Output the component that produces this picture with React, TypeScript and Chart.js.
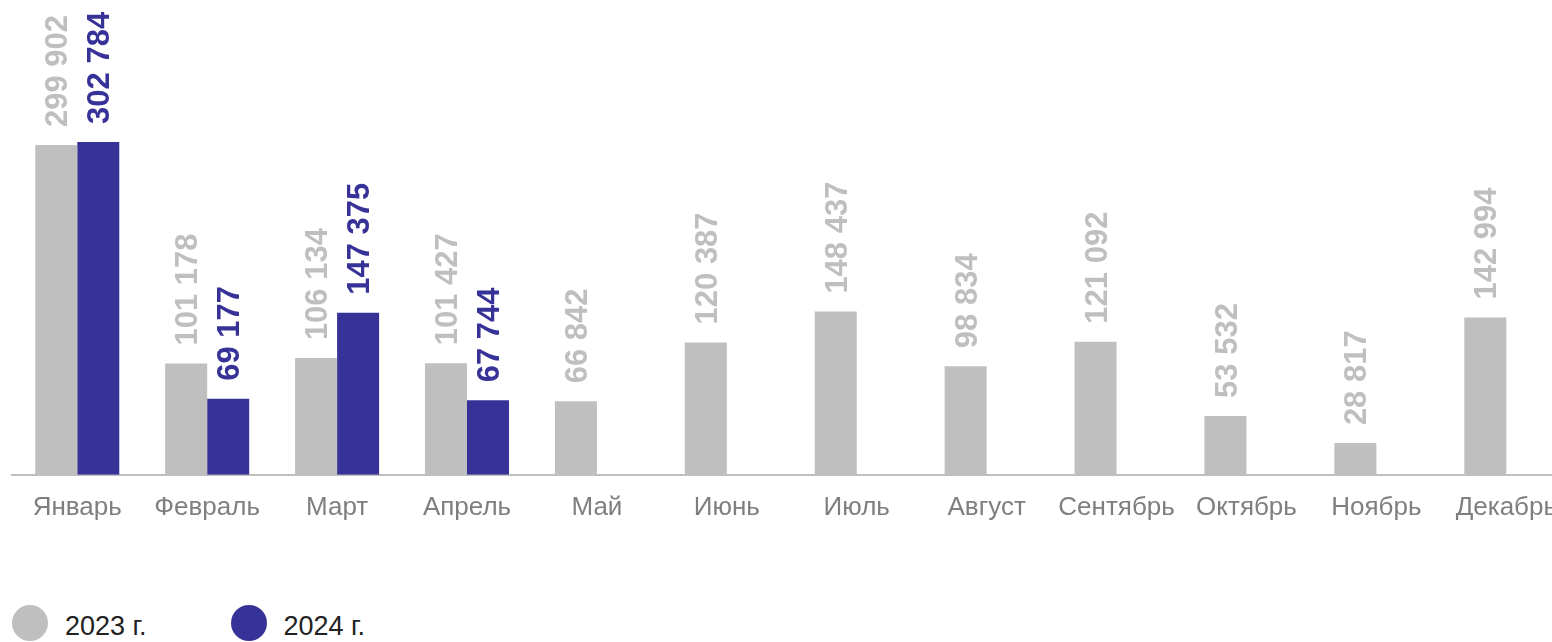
import React, { useEffect, useLayoutEffect, useRef } from "react";
import { Chart, registerables } from "chart.js";

Chart.register(...registerables);

const months = ["Январь", "Февраль", "Март", "Апрель", "Май", "Июнь", "Июль", "Август", "Сентябрь", "Октябрь", "Ноябрь", "Декабрь"];
const values2023 = [299902, 101178, 106134, 101427, 66842, 120387, 148437, 98834, 121092, 53532, 28817, 142994];
const values2024: (number | null)[] = [302784, 69177, 147375, 67744, null, null, null, null, null, null, null, null];
const seriesNames = ["2023 г.", "2024 г."];

const GRAY = "#BFBFBF";
const BLUE = "#373297";
const FONT = "'Liberation Sans', Arial, sans-serif";

const fmt = (v: number) => String(Math.round(v)).replace(/\B(?=(\d{3})+(?!\d))/g, " ");

const valueLabels = {
  id: "valueLabels",
  afterDatasetsDraw(chart: any) {
    const ctx = chart.ctx;
    const size = 31;
    chart.data.datasets.forEach((ds: any, i: number) => {
      const meta = chart.getDatasetMeta(i);
      meta.data.forEach((bar: any, j: number) => {
        const v = ds.data[j];
        if (v == null) return;
        ctx.save();
        ctx.translate(bar.x, bar.y - 18);
        ctx.rotate(-Math.PI / 2);
        ctx.font = `bold ${size}px ${FONT}`;
        ctx.fillStyle = ds.backgroundColor;
        ctx.textAlign = "left";
        ctx.textBaseline = "alphabetic";
        ctx.fillText(fmt(v), 0, size * 0.358);
        ctx.restore();
      });
    });
  },
};

export default function App() {
  const ref = useRef<HTMLCanvasElement>(null);

  useLayoutEffect(() => {
    const prev = document.body.style.margin;
    document.body.style.margin = "0";
    return () => {
      document.body.style.margin = prev;
    };
  }, []);

  useEffect(() => {
    if (!ref.current) return;
    const chart = new Chart(ref.current, {
      type: "bar",
      data: {
        labels: months,
        datasets: [
          { label: seriesNames[0], data: values2023, backgroundColor: GRAY, borderWidth: 0 },
          { label: seriesNames[1], data: values2024 as any, backgroundColor: BLUE, borderWidth: 0 },
        ],
      },
      options: {
        animation: false,
        responsive: false,
        maintainAspectRatio: false,
        layout: { padding: { left: 4.3, right: 0, top: 2, bottom: 0 } },
        datasets: { bar: { barPercentage: 1, categoryPercentage: 0.647 } } as any,
        plugins: { legend: { display: false }, tooltip: { enabled: false } },
        scales: {
          x: {
            grid: { display: false, drawTicks: false },
            border: { display: true, color: GRAY, width: 2 },
            ticks: {
              color: "#7F7F7F",
              font: { family: FONT, size: 26 },
              padding: 17,
              maxRotation: 0,
              minRotation: 0,
              autoSkip: false,
            },
          },
          y: { display: false, min: 0, max: 422800 },
        },
      },
      plugins: [valueLabels],
    });
    return () => chart.destroy();
  }, []);

  const legendItem = (name: string, color: string, left: number) => (
    <React.Fragment key={name}>
      <div
        style={{
          position: "absolute",
          left: left,
          top: 605,
          width: 36,
          height: 36,
          borderRadius: "50%",
          background: color,
        }}
      />
      <div
        style={{
          position: "absolute",
          left: left + 52.7,
          top: 612,
          height: 29,
          lineHeight: "29px",
          fontFamily: FONT,
          fontSize: 27,
          color: "#222222",
          whiteSpace: "nowrap",
        }}
      >
        {name}
      </div>
    </React.Fragment>
  );

  return (
    <div style={{ position: "relative", width: 1552, height: 642, overflow: "hidden" }}>
      <div style={{ position: "absolute", left: 8, top: 8, width: 1544, overflow: "hidden" }}>
        <canvas ref={ref} width={1566} height={532} style={{ display: "block", width: 1566, height: 532 }} />
      </div>
      {legendItem(seriesNames[0], GRAY, 12.3)}
      {legendItem(seriesNames[1], BLUE, 230.7)}
    </div>
  );
}
